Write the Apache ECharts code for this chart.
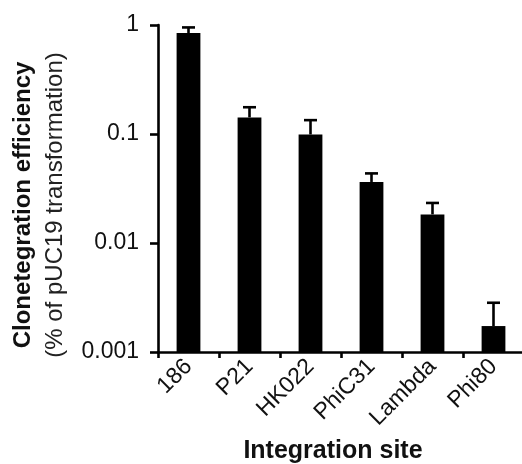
<!DOCTYPE html>
<html>
<head>
<meta charset="utf-8">
<script src="https://cdn.jsdelivr.net/npm/echarts@6/dist/echarts.min.js"></script>
<style>
  html, body { margin: 0; padding: 0; background: #fff; }
  #chart { width: 522px; height: 464px; }
</style>
</head>
<body>
<div id="chart"></div>
<script>
const categories = ['186', 'P21', 'HK022', 'PhiC31', 'Lambda', 'Phi80'];
const means = [0.845, 0.142, 0.099, 0.0363, 0.0183, 0.00173];
const upper = [0.95, 0.176, 0.134, 0.0435, 0.0233, 0.00283];
const yTickLabels = ['0.001', '0.01', '0.1', '1'];

const font = '"Liberation Sans", Arial, sans-serif';
const ink = '#000';
const textInk = '#111';
const yMin = 0.001;

const chart = echarts.init(document.getElementById('chart'));

// bars drawn by hand: a log axis makes the stock bar start at 1
const renderBar = (params, api) => {
  const i = api.value(0);
  const top = api.coord([i, api.value(1)]);
  const base = api.coord([i, yMin]);
  const w = api.size([1, 0])[0] * 0.39;
  return {
    type: 'rect',
    shape: { x: top[0] - w / 2, y: top[1], width: w, height: base[1] - top[1] },
    style: { fill: ink }
  };
};

const renderErr = (params, api) => {
  const i = api.value(0);
  const lo = api.coord([i, api.value(1)]);
  const hi = api.coord([i, api.value(2)]);
  const cap = 6.5;
  const style = { stroke: ink, lineWidth: 2.6 };
  return {
    type: 'group',
    children: [
      { type: 'line', shape: { x1: lo[0], y1: lo[1], x2: hi[0], y2: hi[1] }, style },
      { type: 'line', shape: { x1: hi[0] - cap, y1: hi[1], x2: hi[0] + cap, y2: hi[1] }, style }
    ]
  };
};

chart.setOption({
  animation: false,
  grid: { left: 158, top: 25, width: 366, height: 327, outerBoundsMode: 'none', containLabel: false },
  xAxis: {
    type: 'category',
    data: categories,
    axisLine: { lineStyle: { color: ink, width: 2.6 } },
    axisTick: { show: true, length: 6, lineStyle: { color: ink, width: 2.6 } },
    axisLabel: { rotate: 45, color: textInk, fontSize: 23, fontFamily: font, margin: 11 }
  },
  yAxis: {
    type: 'log',
    logBase: 10,
    min: yMin,
    max: 1,
    axisLine: { show: true, lineStyle: { color: ink, width: 2.6 } },
    axisTick: { show: true, length: 8, lineStyle: { color: ink, width: 2.6 } },
    splitLine: { show: false },
    axisLabel: {
      color: textInk, fontSize: 23, fontFamily: font, margin: 19,
      formatter: v => yTickLabels[Math.round(Math.log10(v)) + 3]
    }
  },
  graphic: [
    {
      type: 'text', x: 23, y: 205, rotation: Math.PI / 2,
      style: { text: 'Clonetegration efficiency', fill: textInk, font: 'bold 24px ' + font, align: 'center', verticalAlign: 'middle' }
    },
    {
      type: 'text', x: 55, y: 205, rotation: Math.PI / 2,
      style: { text: '(% of pUC19 transformation)', fill: '#222', font: '24px ' + font, align: 'center', verticalAlign: 'middle' }
    },
    {
      type: 'text', x: 333, y: 451,
      style: { text: 'Integration site', fill: textInk, font: 'bold 25px ' + font, align: 'center', verticalAlign: 'middle' }
    }
  ],
  series: [
    {
      type: 'custom',
      renderItem: renderBar,
      data: categories.map((c, i) => [i, means[i]]),
      encode: { x: 0, y: 1 }
    },
    {
      type: 'custom',
      renderItem: renderErr,
      data: categories.map((c, i) => [i, means[i], upper[i]]),
      encode: { x: 0, y: [1, 2] }
    }
  ]
});
</script>
</body>
</html>
